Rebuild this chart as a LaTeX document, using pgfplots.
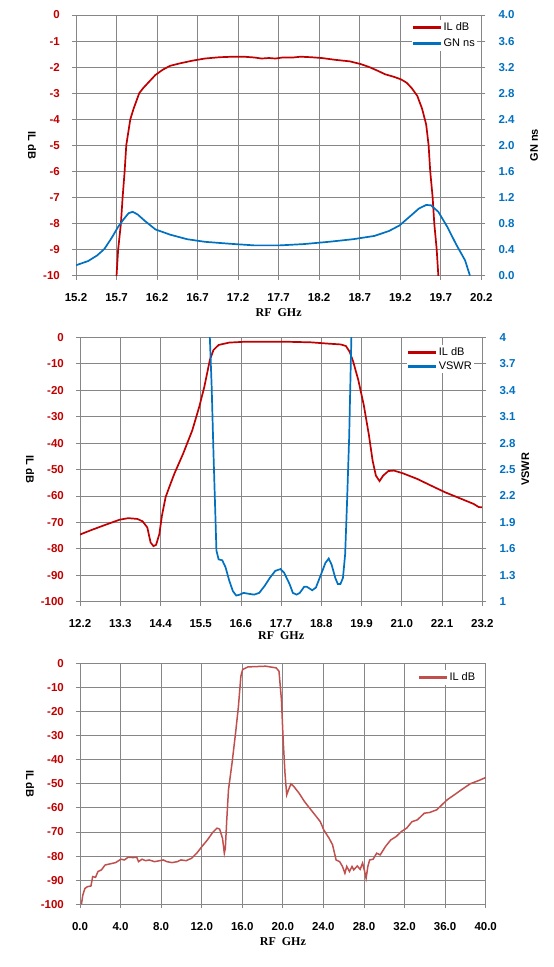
\documentclass[border=0pt]{standalone}
\usepackage{pgfplots}
\pgfplotsset{compat=1.18}
\usepackage{fontspec}
\setmainfont{Liberation Sans}
\newfontfamily\serifb{Liberation Serif}
\definecolor{ilred}{HTML}{C00000}
\definecolor{gnblue}{HTML}{0070C0}
\definecolor{ilredb}{HTML}{C0504D}
\definecolor{gridgray}{HTML}{868686}

\pgfplotsset{
  base/.style={
    scale only axis, anchor=south west,
    /pgf/number format/assume math mode=true,
    axis line style={gridgray, line width=0.8pt},
    tick style={gridgray, line width=0.8pt},
    tick align=outside, major tick length=4pt,
    minor tick num=0,
    ticklabel style={font=\bfseries\fontsize{11.5}{13}\selectfont},
    xticklabel style={text=black, anchor=north, inner sep=0pt, yshift=-14pt},
    every axis x label/.style={at={(axis description cs:0.5,0)}, anchor=center, yshift=-37pt,
      font=\serifb\bfseries\fontsize{12}{14}\selectfont},
    legend cell align=left,
    legend style={draw=none, fill=white, inner sep=1pt, outer sep=0pt,
      font=\fontsize{11}{13}\selectfont, nodes={inner sep=1.5pt},
      /tikz/every odd column/.append style={column sep=2pt}},
  },
  legred/.style={legend image code/.code={\fill[color=ilred] (0pt,-1pt) rectangle (27pt,1pt);}},
  legblue/.style={legend image code/.code={\fill[color=gnblue] (0pt,-1pt) rectangle (27pt,1pt);}},
  legredb/.style={legend image code/.code={\fill[color=ilredb] (0pt,-1pt) rectangle (27pt,1pt);}},
  leftax/.style={base,
    grid=major, grid style={gridgray, line width=0.8pt},
    tick pos=left,
    yticklabel style={text=ilred, anchor=east, inner sep=0pt, xshift=-12pt},
  },
  rightax/.style={base,
    axis y line*=right, axis x line=none,
    yticklabel style={text=gnblue, anchor=west, inner sep=0pt, xshift=13pt},
  },
}

\begin{document}
\begin{tikzpicture}[x=1pt,y=1pt]
\path[use as bounding box] (0,0) rectangle (554,967);

% ---------------- Chart 1 ----------------
\begin{axis}[leftax, at={(76pt,691.3pt)}, width=405.3pt, height=260.7pt,
  xmin=15.2, xmax=20.2, ymin=-10, ymax=0,
  xtick={15.2,15.7,16.2,16.7,17.2,17.7,18.2,18.7,19.2,19.7,20.2},
  xticklabel={\pgfmathprintnumber[fixed,fixed zerofill,precision=1]{\tick}},
  ytick={-10,-9,-8,-7,-6,-5,-4,-3,-2,-1,0},
  xlabel={RF\ \ GHz},
  ylabel={IL dB},
  every axis y label/.style={at={(axis description cs:0,0.5)}, anchor=center, xshift=-44pt, rotate=-90,
    font=\bfseries\fontsize{11}{13}\selectfont},
]
\addplot[ilred, line width=1.7pt] coordinates {
(15.69,-10.4) (15.70,-10) (15.72,-9) (15.754,-8) (15.775,-7) (15.80,-6) (15.82,-5) (15.87,-4)
(15.91,-3.6) (15.98,-3) (16.03,-2.8) (16.12,-2.5) (16.18,-2.3) (16.27,-2.1) (16.36,-1.95)
(16.49,-1.85) (16.64,-1.75) (16.79,-1.67) (16.97,-1.62) (17.14,-1.6) (17.27,-1.6) (17.40,-1.63)
(17.49,-1.67) (17.58,-1.65) (17.66,-1.67) (17.75,-1.63) (17.88,-1.63) (17.97,-1.6) (18.10,-1.62)
(18.23,-1.65) (18.40,-1.72) (18.58,-1.78) (18.71,-1.88) (18.82,-2.0) (18.93,-2.15) (19.01,-2.27)
(19.12,-2.37) (19.21,-2.47) (19.28,-2.6) (19.34,-2.8) (19.41,-3.1) (19.47,-3.6) (19.52,-4.2)
(19.55,-5) (19.57,-6) (19.60,-7) (19.62,-8) (19.65,-9) (19.67,-10) (19.68,-10.4)
};
\end{axis}
\begin{axis}[rightax, at={(76pt,691.3pt)}, width=405.3pt, height=260.7pt,
  xmin=15.2, xmax=20.2, ymin=0, ymax=4,
  ytick={0,0.4,0.8,1.2,1.6,2.0,2.4,2.8,3.2,3.6,4.0},
  yticklabel={\pgfmathprintnumber[fixed,fixed zerofill,precision=1]{\tick}},
  ylabel={GN ns},
  every axis y label/.style={at={(axis description cs:1,0.5)}, anchor=center, xshift=52.7pt, rotate=90,
    font=\bfseries\fontsize{11}{13}\selectfont},
  legend style={at={(rel axis cs:1,1)}, anchor=north east, xshift=-4pt, yshift=-5pt, row sep=4pt},
]
\addplot[gnblue, line width=1.7pt, forget plot] coordinates {
(15.2,0.16) (15.35,0.225) (15.46,0.31) (15.55,0.41) (15.64,0.58) (15.72,0.75) (15.79,0.87)
(15.85,0.96) (15.90,0.98) (15.96,0.94) (16.05,0.84) (16.18,0.71) (16.36,0.63) (16.57,0.56)
(16.79,0.52) (17.1,0.49) (17.40,0.465) (17.71,0.465) (18.01,0.485) (18.32,0.52) (18.62,0.56)
(18.88,0.61) (19.06,0.685) (19.19,0.77) (19.32,0.91) (19.43,1.03) (19.52,1.085) (19.58,1.08)
(19.67,0.98) (19.78,0.75) (19.89,0.48) (20.0,0.235) (20.06,0.0)
};
\addlegendimage{legred}
\addlegendentry{IL dB}
\addlegendimage{legblue}
\addlegendentry{GN ns}
\end{axis}

% ---------------- Chart 2 ----------------
\begin{axis}[leftax, at={(80pt,365.3pt)}, width=402.3pt, height=264.4pt,
  xmin=12.2, xmax=23.2, ymin=-100, ymax=0,
  xtick={12.2,13.3,14.4,15.5,16.6,17.7,18.8,19.9,21.0,22.1,23.2},
  xticklabel={\pgfmathprintnumber[fixed,fixed zerofill,precision=1]{\tick}},
  ytick={-100,-90,-80,-70,-60,-50,-40,-30,-20,-10,0},
  xlabel={RF\ \ GHz},
  every axis x label/.style={at={(axis description cs:0.5,0)}, anchor=center, yshift=-34pt,
      font=\serifb\bfseries\fontsize{12}{14}\selectfont},
  ylabel={IL dB},
  every axis y label/.style={at={(axis description cs:0,0.5)}, anchor=center, xshift=-50pt, rotate=-90,
    font=\bfseries\fontsize{11}{13}\selectfont},
]
\addplot[ilred, line width=1.7pt] coordinates {
(12.2,-74.6) (12.51,-72.9) (12.9,-70.9) (13.28,-69) (13.52,-68.4) (13.77,-68.7) (13.91,-69.6)
(14.04,-71.9) (14.13,-77.6) (14.21,-79) (14.28,-78.5) (14.37,-74.4) (14.44,-67.5) (14.54,-60.5)
(14.64,-56.7) (14.78,-51.6) (15.02,-44) (15.27,-35.2) (15.46,-26.3) (15.6,-18.7) (15.75,-8.6)
(15.85,-4.8) (15.99,-2.9) (16.28,-2.0) (16.76,-1.65) (17.73,-1.65) (18.51,-1.9) (18.99,-2.4)
(19.33,-2.7) (19.47,-3.3) (19.57,-5.4) (19.67,-9.2) (19.81,-16.2) (19.96,-25.7) (20.1,-37)
(20.2,-46.6) (20.29,-52.3) (20.39,-54.4) (20.49,-52.3) (20.63,-50.6) (20.78,-50.4) (21.02,-51.4)
(21.41,-53.5) (21.8,-56.1) (22.18,-58.6) (22.57,-60.8) (22.96,-63) (23.1,-64.2) (23.2,-64.3)
};
\end{axis}
\begin{axis}[rightax, at={(80pt,365.3pt)}, width=402.3pt, height=264.4pt,
  xmin=12.2, xmax=23.2, ymin=1, ymax=4,
  ytick={1,1.3,1.6,1.9,2.2,2.5,2.8,3.1,3.4,3.7,4},
  yticklabels={1,1.3,1.6,1.9,2.2,2.5,2.8,3.1,3.4,3.7,4},
  ylabel={VSWR},
  every axis y label/.style={at={(axis description cs:1,0.5)}, anchor=center, xshift=43pt, rotate=90,
    font=\bfseries\fontsize{11}{13}\selectfont},
  legend style={at={(rel axis cs:1,1)}, anchor=north east, xshift=-8pt, yshift=-8pt, row sep=1.5pt},
]
\addplot[gnblue, line width=1.7pt, forget plot] coordinates {
(15.74,4.4) (15.75,4.0) (15.8,3.44) (15.85,2.68) (15.9,2.0) (15.93,1.58) (15.99,1.48) (16.09,1.47)
(16.18,1.39) (16.28,1.24) (16.38,1.12) (16.47,1.07) (16.57,1.08) (16.67,1.10) (16.81,1.09)
(16.96,1.08) (17.1,1.10) (17.25,1.18) (17.39,1.27) (17.54,1.35) (17.68,1.37) (17.78,1.33)
(17.93,1.20) (18.02,1.10) (18.12,1.08) (18.21,1.10) (18.33,1.17) (18.4,1.17) (18.55,1.13)
(18.65,1.16) (18.79,1.31) (18.91,1.44) (19.0,1.49) (19.08,1.42) (19.18,1.27) (19.25,1.20)
(19.32,1.20) (19.39,1.27) (19.45,1.54) (19.5,2.11) (19.56,2.87) (19.62,4.0) (19.63,4.4)
};
\addlegendimage{legred}
\addlegendentry{IL dB}
\addlegendimage{legblue}
\addlegendentry{VSWR}
\end{axis}

% ---------------- Chart 3 ----------------
\begin{axis}[leftax, at={(80pt,62.7pt)}, width=405.7pt, height=241pt,
  xmin=0, xmax=40, ymin=-100, ymax=0,
  xtick={0,4,...,40},
  xticklabel={\pgfmathprintnumber[fixed,fixed zerofill,precision=1]{\tick}},
  ytick={-100,-90,-80,-70,-60,-50,-40,-30,-20,-10,0},
  xlabel={RF\ \ GHz},
  ylabel={IL dB},
  every axis y label/.style={at={(axis description cs:0,0.5)}, anchor=center, xshift=-50pt, rotate=-90,
    font=\bfseries\fontsize{11}{13}\selectfont},
  legend style={at={(rel axis cs:1,1)}, anchor=north east, xshift=-8pt, yshift=-7pt},
]
\addplot[ilredb, line width=1.5pt, forget plot] coordinates {
(0.14,-100) (0.28,-96.1) (0.49,-93.4) (0.73,-92.7) (1.08,-92.4) (1.25,-88.5) (1.53,-88.8)
(1.77,-86.4) (2.12,-85.7) (2.47,-83.7) (2.99,-83.2) (3.51,-82.7) (4.03,-81.3) (4.38,-81.6)
(4.73,-80.5) (5.25,-80.6) (5.6,-80.5) (5.77,-82.3) (6.12,-81.3) (6.47,-81.9) (6.82,-81.6)
(7.34,-82.3) (7.86,-81.9) (8.21,-81.6) (8.56,-82.3) (9.08,-82.7) (9.6,-82.3) (9.95,-81.6)
(10.47,-81.9) (11.0,-80.9) (11.51,-78.8) (12.03,-76) (12.56,-73.3) (13.08,-70.2) (13.5,-68.4)
(13.77,-68.8) (14.05,-72.6) (14.23,-78.8) (14.33,-76.7) (14.47,-65) (14.64,-52.5) (14.99,-41.4)
(15.34,-28.9) (15.62,-17.9) (15.86,-5.4) (16.03,-2.6) (16.56,-1.5) (18.3,-1.2) (19.34,-1.9)
(19.62,-3.3) (19.86,-15.1) (20.03,-31.7) (20.21,-45.6) (20.38,-54.6) (20.56,-52.5) (20.8,-50)
(21.08,-51.1) (21.6,-53.9) (22.12,-57.3) (22.64,-60.1) (23.17,-62.9) (23.69,-65.7) (24.03,-69.1)
(24.56,-72.6) (24.9,-75.3) (25.25,-81.6) (25.6,-82.3) (25.88,-84.3) (26.12,-87.1) (26.3,-84.3)
(26.57,-86.4) (26.82,-84.3) (26.99,-85.7) (27.34,-84.1) (27.62,-85.5) (27.86,-82.9) (28.03,-85.7)
(28.21,-89.2) (28.38,-84.3) (28.56,-81.6) (28.9,-81.3) (29.25,-78.8) (29.6,-79.5) (30.12,-76)
(30.64,-73.3) (31.17,-71.9) (31.69,-69.8) (32.21,-68.4) (32.73,-65.7) (33.25,-65) (33.95,-62.2)
(34.47,-61.9) (35.17,-60.8) (35.69,-58.7) (36.21,-56.6) (36.9,-54.6) (37.6,-52.5) (38.47,-50)
(39.34,-48.6) (40,-47.4)
};
\addlegendimage{legredb}
\addlegendentry{IL dB}
\end{axis}
\end{tikzpicture}
\end{document}
